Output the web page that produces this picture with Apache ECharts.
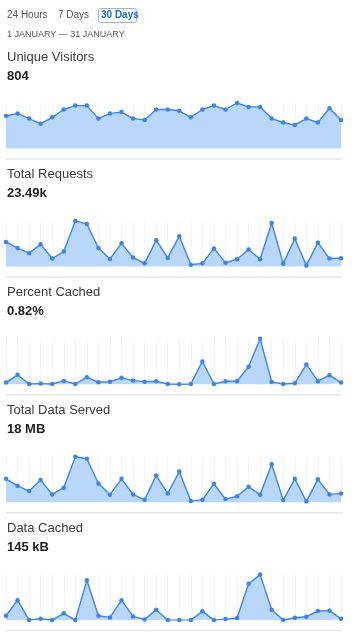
<!DOCTYPE html>
<html>
<head>
<meta charset="utf-8">
<title>Analytics</title>
<script src="https://cdn.jsdelivr.net/npm/echarts@6/dist/echarts.min.js"></script>
<style>
  html, body { margin: 0; padding: 0; background: #fff; }
  #chart { width: 353px; height: 638px; }
</style>
</head>
<body>
<div id="chart"></div>
<script>
// one label per point, January
const days = ['1', '2', '3', '4', '5', '6', '7', '8', '9', '10', '11', '12', '13', '14', '15',
              '16', '17', '18', '19', '20', '21', '22', '23', '24', '25', '26', '27', '28', '29', '30'];

const titles = ['Unique Visitors', 'Total Requests', 'Percent Cached', 'Total Data Served', 'Data Cached'];
const totals = ['804', '23.49k', '0.82%', '18 MB', '145 kB'];

const visitors = [25, 27, 23, 19, 24, 30, 33, 33, 23, 27, 28, 23, 22, 30, 30,
                  29, 24, 30, 33, 30, 35, 32, 32, 23, 20, 18, 23, 20, 31, 22];
const requests = [1179, 885, 639, 1065, 378, 720, 2195, 2048, 885, 360, 1113, 426, 147, 1262, 410,
                  1458, 81, 147, 869, 180, 345, 819, 345, 2096, 132, 1343, 48, 1146, 378, 393];
const percentCached = [0.30, 1.66, 0.05, 0.12, 0.05, 0.59, 0.05, 1.25, 0.35, 0.47, 1.13, 0.65, 0.47, 0.54, 0.05,
                       0, 0.05, 4.03, 0.05, 0.54, 0.54, 3.08, 8.0, 0.42, 0.05, 0.18, 3.50, 0.54, 1.60, 0.30];
const dataServed = [0.90, 0.63, 0.43, 0.85, 0.30, 0.56, 1.75, 1.67, 0.72, 0.29, 0.90, 0.30, 0.09, 1.03, 0.33,
                    1.18, 0.05, 0.09, 0.71, 0.12, 0.23, 0.59, 0.29, 1.46, 0.08, 0.90, 0.03, 0.88, 0.30, 0.33];
const dataCached = [2.6, 11.8, 0, 0.8, 0, 4.0, 0, 23.6, 2.6, 1.6, 11.8, 2.2, 0.4, 6.2, 0,
                    0, 0, 5.2, 0, 0.6, 1.2, 21.6, 27.0, 6.2, 0, 1.4, 2.0, 5.4, 5.6, 0.8];

const seriesData = [visitors, requests, percentCached, dataServed, dataCached];

const font = '"Liberation Sans", Arial, sans-serif';
const step = 117.9;

const chart = echarts.init(document.getElementById('chart'));

const grids = [], xAxes = [], yAxes = [], series = [];
const graphic = [
    { type: 'text', left: 7, top: 10, style: { text: '24 Hours', font: '10px ' + font, fill: '#555' } },
    { type: 'text', left: 58, top: 10, style: { text: '7 Days', font: '10px ' + font, fill: '#555' } },
    { type: 'rect', shape: { x: 98.5, y: 8.5, width: 38, height: 14, r: 2 },
      style: { fill: '#fff', stroke: '#8fb4ee', lineWidth: 1 } },
    { type: 'text', left: 101, top: 10, style: { text: '30 Days', font: 'bold 10px ' + font, fill: '#1a66e0' } },
    { type: 'text', left: 7, top: 30.5, style: { text: '1 JANUARY \u2014 31 JANUARY', font: '9px ' + font, fill: '#555' } }
];

seriesData.forEach(function (data, i) {
    const off = i * step;
    grids.push({ left: 6, right: 12, top: 103 + off, height: 45.5 });
    xAxes.push({
        type: 'category', gridIndex: i, data: days, boundaryGap: false,
        axisLine: { show: false }, axisTick: { show: false }, axisLabel: { show: false },
        splitLine: { show: true, interval: 0, lineStyle: { color: '#f1f4fb', width: 1 } }
    });
    yAxes.push({
        type: 'value', gridIndex: i, min: 0, max: 'dataMax',
        axisLine: { show: false }, axisTick: { show: false }, axisLabel: { show: false },
        splitLine: { show: false }
    });
    series.push({
        type: 'line', xAxisIndex: i, yAxisIndex: i, data: data,
        symbol: 'circle', symbolSize: 4.5, showSymbol: true,
        lineStyle: { color: '#3f83ea', width: 1.4 },
        itemStyle: { color: '#3f83ea' },
        areaStyle: { color: '#b9d6fb', opacity: 1 },
        silent: true, animation: false
    });
    graphic.push({ type: 'text', left: 7, top: 50.5 + off,
        style: { text: titles[i], font: '13px ' + font, fill: '#3a3a3a' } });
    graphic.push({ type: 'text', left: 7, top: 69.5 + off,
        style: { text: totals[i], font: 'bold 13px ' + font, fill: '#1e1e1e' } });
    graphic.push({ type: 'line', shape: { x1: 6, y1: 159 + off, x2: 342, y2: 159 + off },
        style: { stroke: '#e6e6e6', lineWidth: 1.5 } });
});

chart.setOption({
    animation: false,
    grid: grids,
    xAxis: xAxes,
    yAxis: yAxes,
    series: series,
    graphic: graphic
});
</script>
</body>
</html>
